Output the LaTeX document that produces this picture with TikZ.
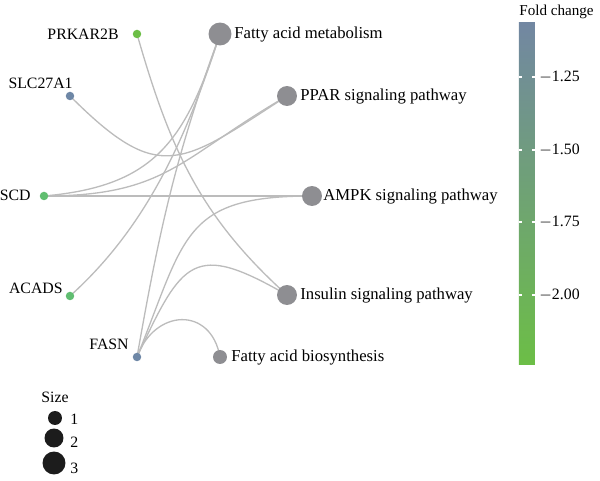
\documentclass[tikz,border=0pt]{standalone}
\usepackage{fontspec}
\setmainfont{Liberation Serif}
\usetikzlibrary{positioning,backgrounds}
\definecolor{EdgeGray}{RGB}{188,188,188}
\definecolor{PathGray}{RGB}{142,142,146}
\definecolor{FcTop}{RGB}{114,135,162}
\definecolor{FcMid}{RGB}{98,183,122}
\definecolor{FcBot}{RGB}{108,190,70}
\definecolor{GeneBlue}{RGB}{110,135,166}
\definecolor{GeneLime}{RGB}{108,190,70}
\definecolor{GeneGreen}{RGB}{96,190,112}
\definecolor{SizeBlack}{RGB}{28,28,28}

\tikzset{
  gene/.style={circle, inner sep=0pt, minimum size=0.17cm},
  pathway/.style={circle, fill=PathGray, inner sep=0pt},
  sizedot/.style={circle, fill=SizeBlack, inner sep=0pt},
  link/.style={draw=EdgeGray, line width=0.75pt},
  txt/.style={inner sep=0pt, font=\fontsize{9}{10}\selectfont},
  pwtxt/.style={inner sep=0pt, font=\fontsize{9.5}{11}\selectfont},
}

\begin{document}
\begin{tikzpicture}[x=0.02cm, y=0.02cm]
    %% Frame
    \useasboundingbox (0,0) rectangle (600,481);

    %% Genes
    \node[gene, fill=GeneLime] (prk) at (137,447) {};
    \node[gene, fill=GeneBlue] (slc) at (70,385) {};
    \node[gene, fill=GeneGreen] (scd) at (44,285) {};
    \node[gene, fill=GeneGreen!90!FcMid] (acads) at (70,185) {};
    \node[gene, fill=GeneBlue] (fasn) at (137,124) {};

    \node[txt, anchor=base east] (prk-l) at ([shift={(-18,-6)}]prk) {PRKAR2B};
    \node[txt, anchor=base east] (slc-l) at ([shift={(3,7)}]slc) {SLC27A1};
    \node[txt, anchor=base east] (scd-l) at ([shift={(-13,-5)}]scd) {SCD};
    \node[txt, anchor=base east] (acads-l) at ([shift={(-7,2)}]acads) {ACADS};
    \node[txt, anchor=base east] (fasn-l) at ([shift={(-8,7)}]fasn) {FASN};

    %% Pathways
    \node[pathway, minimum size=0.46cm] (fam) at (220,447) {};
    \node[pathway, minimum size=0.40cm] (ppar) at (287,385) {};
    \node[pathway, minimum size=0.40cm] (ampk) at (312,285) {};
    \node[pathway, minimum size=0.40cm] (ins) at (287,186) {};
    \node[pathway, minimum size=0.28cm] (fab) at (220,124) {};

    \node[pwtxt, anchor=base west] (fam-l) at ([shift={(14,-5)}]fam) {Fatty acid metabolism};
    \node[pwtxt, anchor=base west] (ppar-l) at ([shift={(13,-5)}]ppar) {PPAR signaling pathway};
    \node[pwtxt, anchor=base west] (ampk-l) at ([shift={(11,-5)}]ampk) {AMPK signaling pathway};
    \node[pwtxt, anchor=base west] (ins-l) at ([shift={(13,-5)}]ins) {Insulin signaling pathway};
    \node[pwtxt, anchor=base west] (fab-l) at ([shift={(11,-5)}]fab) {Fatty acid biosynthesis};

    %% Links
    \begin{scope}[on background layer]
        \draw[link] (prk.center) to[out=-74, in=138] (ins.center);
        \draw[link] (slc.center) to[out=-45, in=-147, looseness=1.5] (ppar.center);
        \draw[link] (scd.center) -- (ampk.center);
        \draw[link] (scd.center) to[out=5, in=-108, looseness=1.2] (fam.center);
        \draw[link] (scd.center) to[out=0, in=-150, looseness=1.2] (ppar.center);
        \draw[link] (acads.center) to[out=42, in=-108, looseness=0.9] (fam.center);
        \draw[link] (fasn.center) to[out=80, in=-110] (fam.center);
        \draw[link] (fasn.center) to[out=68, in=180, looseness=1.4] (ampk.center);
        \draw[link] (fasn.center) to[out=65, in=150, looseness=1.7] (ins.center);
        \draw[link] (fasn.center) to[out=70, in=100, looseness=1.6] (fab.center);
    \end{scope}

    %% Fold change bar
    \node[txt, anchor=base west, font=\fontsize{8.6}{10}\selectfont] (fc-title) at (519,465) {Fold change};
    \shade[top color=FcTop, middle color=FcMid, bottom color=FcBot] (519,116) rectangle (535,458);
    \foreach \ty/\tv in {404/1.25, 331/1.50, 259/1.75, 186/2.00} {
        \draw[white, line width=0.6pt] (519,\ty) -- (522,\ty) (532,\ty) -- (535,\ty);
        \node[txt, anchor=west] (tick-\ty) at (539,\ty) {$-$\tv};
    }

    %% Size legend
    \node[txt, anchor=base west] (size-title) at (41,78) {Size};
    \node[sizedot, minimum size=0.28cm] (size1) at (55,63) {};
    \node[sizedot, minimum size=0.38cm] (size2) at (54,43) {};
    \node[sizedot, minimum size=0.46cm] (size3) at (54,18) {};
    \node[txt, anchor=west] (size1-l) at (70,62) {1};
    \node[txt, anchor=west] (size2-l) at (70,39) {2};
    \node[txt, anchor=west] (size3-l) at (70,13) {3};
\end{tikzpicture}
\end{document}
